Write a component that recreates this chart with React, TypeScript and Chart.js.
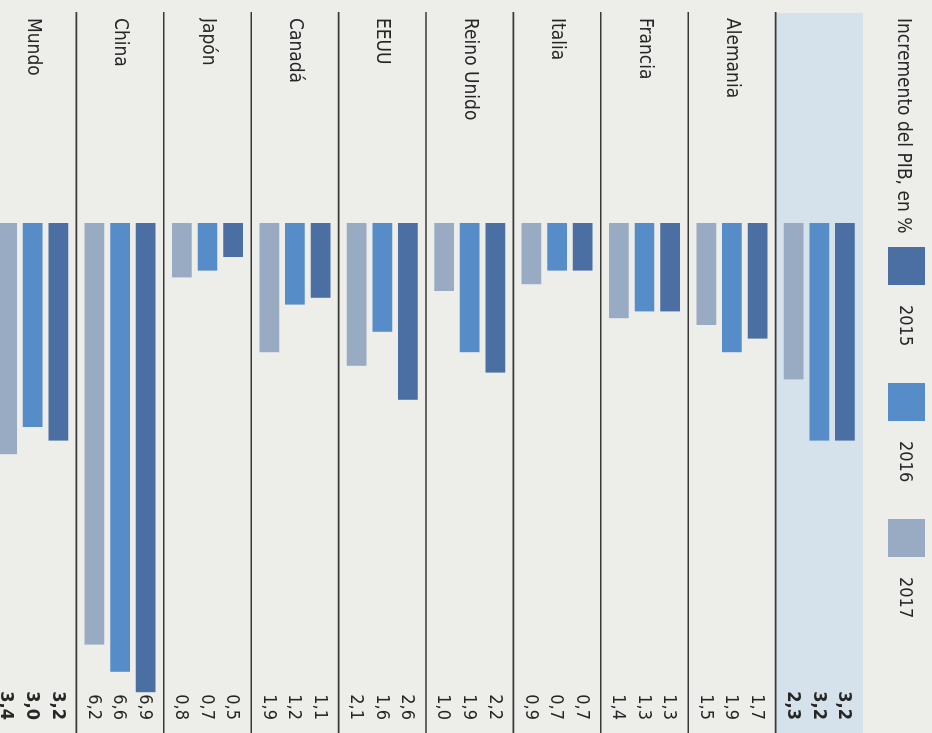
import React, { useEffect, useRef } from "react";
import { Chart, registerables } from "chart.js";

Chart.register(...registerables);

// ---- data ----
const categories = [
  "España",
  "Alemania",
  "Francia",
  "Italia",
  "Reino Unido",
  "EEUU",
  "Canadá",
  "Japón",
  "China",
  "Mundo",
];
const years = ["2015", "2016", "2017"];
const values2015 = [3.2, 1.7, 1.3, 0.7, 2.2, 2.6, 1.1, 0.5, 6.9, 3.2];
const values2016 = [3.2, 1.9, 1.3, 0.7, 1.9, 1.6, 1.2, 0.7, 6.6, 3.0];
const values2017 = [2.3, 1.5, 1.4, 0.9, 1.0, 2.1, 1.9, 0.8, 6.2, 3.4];
const boldCategories = ["España", "Mundo"];
const highlightCategory = "España";
const titleText = "Incremento del PIB, en %";

// ---- styles ----
const COLORS = ["#4b6fa3", "#568cc8", "#98abc2"];
const FONT = '"DejaVu Sans Condensed", "Liberation Sans", Arial, sans-serif';
const TEXT = "#262626";
const PAPER = "#ededea";
const BAND = "#d5e2eb";
const LINE = "#383838";

const W = 733; // unrotated width
const H = 944; // unrotated height

const fmt = (v: number) => v.toFixed(1).replace(".", ",");

const decorPlugin = {
  id: "decor",
  beforeDatasetsDraw(chart: any) {
    const { ctx, chartArea } = chart;
    const y = chart.scales.y;
    const n = categories.length;
    const centers = categories.map((_, i) => y.getPixelForValue(i));
    const step = n > 1 ? centers[1] - centers[0] : chartArea.bottom - chartArea.top;
    const hi = categories.indexOf(highlightCategory);
    ctx.save();
    if (hi >= 0) {
      ctx.fillStyle = BAND;
      const top = centers[hi] - step / 2;
      ctx.fillRect(13, top, W - 13, step);
    }
    ctx.strokeStyle = LINE;
    ctx.lineWidth = 1.6;
    for (let i = 0; i < n; i++) {
      const b = centers[i] + step / 2;
      ctx.beginPath();
      ctx.moveTo(12, b);
      ctx.lineTo(W, b);
      ctx.stroke();
    }
    ctx.restore();
  },
  afterDatasetsDraw(chart: any) {
    const { ctx } = chart;
    ctx.save();
    ctx.textAlign = "right";
    ctx.textBaseline = "middle";
    ctx.fillStyle = TEXT;
    chart.data.datasets.forEach((ds: any, di: number) => {
      const meta = chart.getDatasetMeta(di);
      meta.data.forEach((el: any, i: number) => {
        const bold = boldCategories.includes(categories[i]);
        ctx.font = `${bold ? "bold " : ""}18px ${FONT}`;
        ctx.fillText(fmt(ds.data[i]), 720, el.y + 1);
      });
    });
    ctx.restore();
  },
};

function BarChart() {
  const ref = useRef<HTMLCanvasElement | null>(null);
  useEffect(() => {
    if (!ref.current) return;
    const chart = new Chart(ref.current, {
      type: "bar",
      data: {
        labels: categories,
        datasets: [values2015, values2016, values2017].map((d, i) => ({
          label: years[i],
          data: d,
          backgroundColor: COLORS[i],
          borderWidth: 0,
          categoryPercentage: 0.88,
          barPercentage: 0.77,
        })),
      },
      options: {
        responsive: false,
        animation: false,
        indexAxis: "y",
        layout: { padding: { left: 18, top: 69, right: 34, bottom: 1 } },
        plugins: {
          legend: { display: false },
          tooltip: { enabled: false },
          title: { display: false },
        },
        scales: {
          x: { display: false, min: 0, max: 7 },
          y: {
            position: "left",
            grid: { display: false },
            border: { display: false },
            ticks: {
              crossAlign: "far",
              padding: 0,
              autoSkip: false,
              color: TEXT,
              font: { family: FONT, size: 19 },
            },
            afterFit: (s: any) => {
              s.width = 205;
              s.paddingTop = 0;
              s.paddingBottom = 0;
            },
          },
        },
      } as any,
      plugins: [decorPlugin],
    });
    return () => chart.destroy();
  }, []);
  return <canvas ref={ref} width={W} height={H} style={{ display: "block" }} />;
}

export default function App() {
  return (
    <div
      style={{
        position: "fixed",
        left: 0,
        top: 0,
        width: 932,
        height: 733,
        overflow: "hidden",
        background: PAPER,
      }}
    >
      <div
        style={{
          position: "absolute",
          left: 0,
          top: 0,
          width: W,
          height: H,
          transformOrigin: "0 0",
          transform: "translate(932px, 0px) rotate(90deg)",
        }}
      >
        <BarChart />
        <div
          style={{
            position: "absolute",
            left: 18,
            top: 8,
            height: 38,
            display: "flex",
            alignItems: "center",
            fontFamily: FONT,
            fontSize: 19,
            color: TEXT,
            whiteSpace: "nowrap",
          }}
        >
          {titleText}
        </div>
        <div
          style={{
            position: "absolute",
            left: 247,
            top: 7,
            height: 37,
            display: "flex",
            alignItems: "center",
            fontFamily: FONT,
            fontSize: 18,
            color: TEXT,
          }}
        >
          {years.map((y, i) => (
            <div
              key={y}
              style={{ width: 136, display: "flex", alignItems: "center" }}
            >
              <div
                style={{
                  width: 38,
                  height: 37,
                  background: COLORS[i],
                  marginRight: 20,
                }}
              />
              <span>{y}</span>
            </div>
          ))}
        </div>
      </div>
    </div>
  );
}
